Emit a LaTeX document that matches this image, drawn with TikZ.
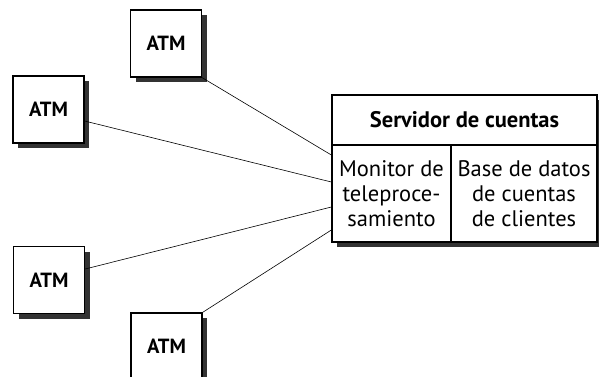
\documentclass[tikz,border=0pt]{standalone}
\usepackage{fontspec}
\setmainfont{PT Sans}
\usetikzlibrary{shadows, positioning}

\begin{document}
\begin{tikzpicture}[
      x=1pt, y=-1pt,
      atm_block/.style={rectangle, draw, line width=1.3pt, fill=white, minimum width=71pt, minimum height=67pt, font=\fontsize{20.5}{24}\selectfont\bfseries, drop shadow={shadow xshift=5pt, shadow yshift=-5pt, fill=black!80, opacity=1}},
      srv_block/.style={rectangle, draw, line width=1.3pt, fill=white, inner sep=0pt, align=center, font=\fontsize{22.5}{25}\selectfont},
      line/.style={draw, line width=0.6pt}
  ]
  \useasboundingbox (0,0) rectangle (599,376);

  % server
  \fill[black!80] (337,100) rectangle (602,247);
  \node [srv_block, minimum width=265pt, minimum height=50pt, font=\fontsize{22.5}{25}\selectfont\bfseries] (srv) at (464.5,120) {Servidor de cuentas};
  \node [srv_block, minimum width=119pt, minimum height=97pt] (mon) at (391.5,193.5) {Monitor de\\teleproce-\\samiento};
  \node [srv_block, minimum width=146pt, minimum height=97pt] (bd) at (524,193.5) {Base de datos\\de cuentas\\de clientes};

  % ATMs
  \node [atm_block] (atm1) at (166,43.5) {ATM};
  \node [atm_block] (atm2) at (48.5,109.5) {ATM};
  \node [atm_block] (atm3) at (49,280) {ATM};
  \node [atm_block] (atm4) at (166.5,346.5) {ATM};

  \path [line] (atm1.south east) -- ([yshift=38.5pt]mon.west);
  \path [line] ([yshift=-11.5pt]atm2.east) -- ([yshift=11.5pt]mon.west);
  \path [line] ([yshift=11pt]atm3.east) -- ([yshift=-13.5pt]mon.west);
  \path [line] (atm4.north east) -- ([yshift=-36.5pt]mon.west);

\end{tikzpicture}
\end{document}
